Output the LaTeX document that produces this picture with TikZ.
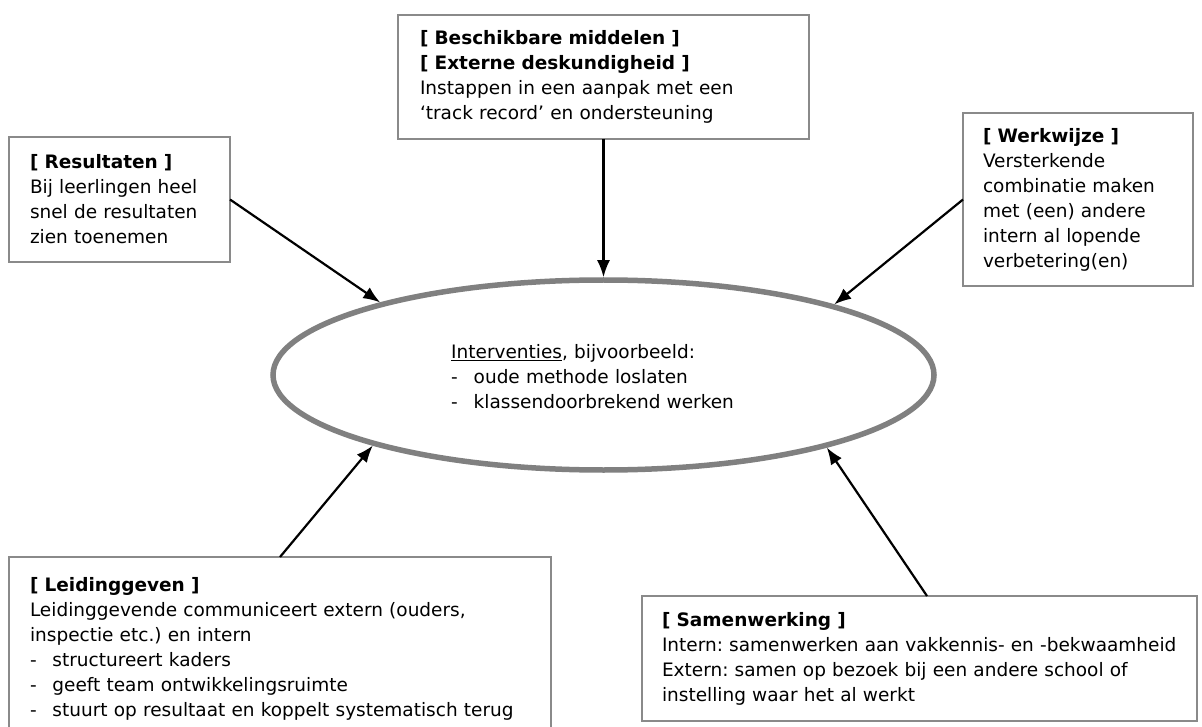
\documentclass[tikz,border=0pt]{standalone}
\usepackage{fontspec}
\setmainfont{DejaVu Sans}
\usetikzlibrary{arrows.meta,shapes.geometric,calc}
\definecolor{boxgray}{HTML}{8A8A8A}
\definecolor{ellgray}{HTML}{808080}
\newcommand{\dashitem}{\makebox[22.5pt][l]{-}}
\frenchspacing
\begin{document}
\begin{tikzpicture}[x=1pt,y=-1pt,
  txtfont/.style={font=\fontsize{18.5pt}{25pt}\selectfont\frenchspacing},
  box/.style={txtfont, draw=boxgray, line width=1.8pt, fill=white, rectangle,
    anchor=north west, align=left, inner ysep=0pt, outer sep=0pt},
  arr/.style={draw=black, line width=2.2pt, -{Latex[length=17pt,width=13pt]}}]
\useasboundingbox (0,0) rectangle (1202,727);

% central ellipse
\node[ellipse, draw=ellgray, line width=5.5pt, minimum width=661pt,
  minimum height=190pt, inner sep=0pt] (ell) at (603.5,375) {};
\node[txtfont, anchor=north west, inner sep=0pt, align=left, text width=300pt]
  (ellt) at (451,344) {\underline{Interventies}, bijvoorbeeld:\\
  \dashitem oude methode loslaten\\
  \dashitem klassendoorbrekend werken};

% boxes
\node[box, minimum width=411pt, minimum height=124pt, text width=367pt,
  inner xsep=22pt] (top) at (398,15)
  {\textbf{[ Beschikbare middelen ]}\\
   \textbf{[ Externe deskundigheid ]}\\
   Instappen in een aanpak met een\\
   ‘track record’ en ondersteuning};

\node[box, minimum width=221pt, minimum height=125pt, text width=179pt,
  inner xsep=21pt] (res) at (9,137)
  {\textbf{[ Resultaten ]}\\
   Bij leerlingen heel\\
   snel de resultaten\\
   zien toenemen};

\node[box, minimum width=230pt, minimum height=173pt, text width=190pt,
  inner xsep=20pt] (werk) at (963,113)
  {\textbf{[ Werkwijze ]}\\
   Versterkende\\
   combinatie maken\\
   met (een) andere\\
   intern al lopende\\
   verbetering(en)};

\node[box, minimum width=542pt, minimum height=183.4pt, text width=500pt,
  inner xsep=21pt] (lei) at (9,557)
  {\textbf{[ Leidinggeven ]}\\
   Leidinggevende communiceert extern (ouders,\\
   inspectie etc.) en intern\\
   \dashitem structureert kaders\\
   \dashitem geeft team ontwikkelingsruimte\\
   \mbox{\dashitem stuurt op resultaat en koppelt systematisch terug}};

\node[box, minimum width=555pt, minimum height=125pt, text width=515pt,
  inner xsep=20pt] (sam) at (642,596)
  {\textbf{[ Samenwerking ]}\\
   \mbox{Intern: samenwerken aan vakkennis- en -bekwaamheid}\\
   Extern: samen op bezoek bij een andere school of\\
   instelling waar het al werkt};

% connectors
\draw[arr] (res.east) -- (ell.162.6);
\draw[arr] (top.south) -- (ell.north);
\draw[arr] (werk.west) -- (ell.17.1);
\draw[arr] (lei.north) -- (ell.197.4);
\draw[arr] ([xshift=7.5pt]sam.north) -- (ell.342.7);
\end{tikzpicture}
\end{document}
